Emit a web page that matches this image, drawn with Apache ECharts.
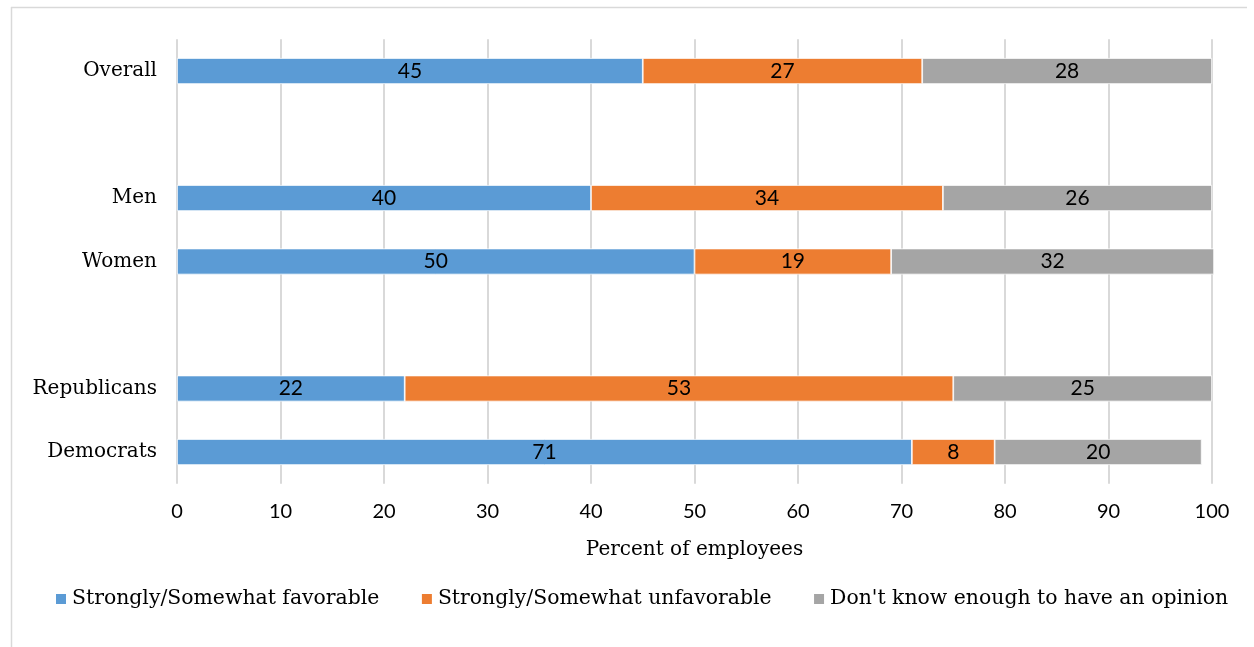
<!DOCTYPE html>
<html>
<head>
<meta charset="utf-8">
<script src="https://cdn.jsdelivr.net/npm/echarts@6/dist/echarts.min.js"></script>
<style>
html,body{margin:0;padding:0;background:#fff;}
#chart{width:1254px;height:647px;}
</style>
</head>
<body>
<div id="chart"></div>
<script>
const categories = ['Overall', ' ', 'Men', 'Women', '  ', 'Republicans', 'Democrats'];
// bar lengths as drawn
const favorable = [45, null, 40, 50, null, 22, 71];
const unfavorable = [27, null, 34, 19, null, 53, 8];
const dontKnow = [28, null, 26, 31.2, null, 25, 20];
// printed labels
const favorableLabels = ['45', '', '40', '50', '', '22', '71'];
const unfavorableLabels = ['27', '', '34', '19', '', '53', '8'];
const dontKnowLabels = ['28', '', '26', '32', '', '25', '20'];
const seriesNames = ['Strongly/Somewhat favorable', 'Strongly/Somewhat unfavorable', "Don't know enough to have an opinion"];
const xTicks = [0, 10, 20, 30, 40, 50, 60, 70, 80, 90, 100];
const colors = ['#5b9bd5', '#ed7d31', '#a5a5a5'];

const serif = '"DejaVu Serif", serif';
const sans = 'Lato, sans-serif';

const chart = echarts.init(document.getElementById('chart'));
function mk(name, data, labels, color) {
  return {
    name: name,
    type: 'bar',
    stack: 'total',
    data: data,
    barWidth: 26,
    clip: false,
    itemStyle: { color: color, borderColor: '#ffffff', borderWidth: 0.75 },
    label: {
      show: true,
      position: 'inside',
      color: '#000',
      fontFamily: sans,
      fontSize: 21,
      formatter: function (p) { return labels[p.dataIndex]; }
    }
  };
}
chart.setOption({
  animation: false,
  backgroundColor: '#fff',
  color: colors,
  graphic: [
    { type: 'line', shape: { x1: 11, y1: 7.5, x2: 1247, y2: 7.5 }, style: { stroke: '#d9d9d9', lineWidth: 1.5 } },
    { type: 'line', shape: { x1: 11.5, y1: 7, x2: 11.5, y2: 647 }, style: { stroke: '#d9d9d9', lineWidth: 1.5 } }
  ],
  grid: { left: 177, right: 42, top: 39.25, bottom: 163.25, containLabel: false },
  legend: {
    left: 54,
    top: 589,
    padding: 0,
    itemWidth: 12,
    itemHeight: 12,
    itemGap: 40.5,
    icon: 'rect',
    textStyle: { fontFamily: serif, fontSize: 20.4, color: '#000' },
    data: seriesNames
  },
  xAxis: {
    type: 'value',
    min: xTicks[0],
    max: xTicks[xTicks.length - 1],
    interval: 10,
    axisLine: { show: false },
    axisTick: { show: false },
    splitLine: { show: true, lineStyle: { color: '#d9d9d9', width: 2 } },
    axisLabel: { fontFamily: sans, fontSize: 20, color: '#000', margin: 18 },
    name: 'Percent of employees',
    nameLocation: 'middle',
    nameGap: 56,
    nameTextStyle: { fontFamily: serif, fontSize: 20, color: '#000' }
  },
  yAxis: {
    type: 'category',
    inverse: true,
    data: categories,
    axisLine: { show: false },
    axisTick: { show: false },
    axisLabel: { fontFamily: serif, fontSize: 20, color: '#000', margin: 20 }
  },
  series: [
    mk(seriesNames[0], favorable, favorableLabels, colors[0]),
    mk(seriesNames[1], unfavorable, unfavorableLabels, colors[1]),
    mk(seriesNames[2], dontKnow, dontKnowLabels, colors[2])
  ]
});
</script>
</body>
</html>
